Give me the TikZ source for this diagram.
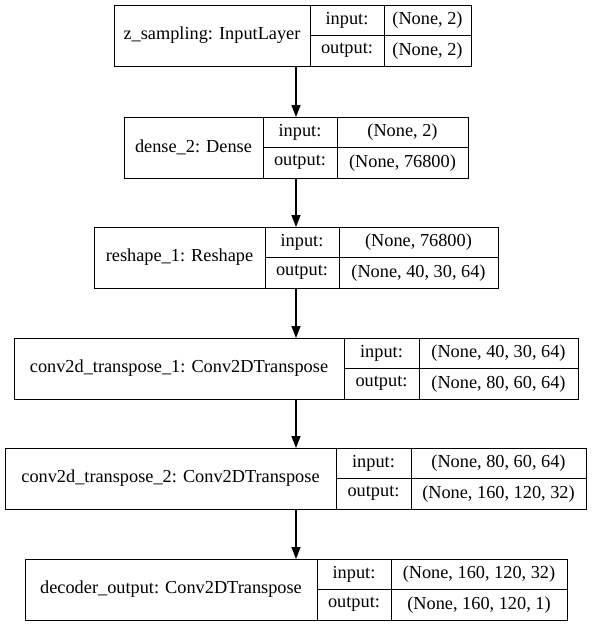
\documentclass[tikz,border=0pt]{standalone}
\usepackage{fontspec}
\setmainfont{Liberation Serif}
\usetikzlibrary{arrows.meta}

% one keras layer record: name, top, left, div1, div2, right, label, input, output
\newcommand{\keraslayer}[9]{%
  \node[cellbox, minimum height=61pt, minimum width={(#6-#3)*1pt}] (#1) at (#3,#2) {};
  \node[cellbox, minimum height=61pt, minimum width={(#4-#3)*1pt}] (#1name) at (#3,#2) {#7};
  \node[cellbox, minimum width={(#5-#4)*1pt}] (#1inl) at (#4,#2) {input:};
  \node[cellbox, minimum width={(#5-#4)*1pt}] (#1outl) at (#1inl.south west) {output:};
  \node[cellbox, minimum width={(#6-#5)*1pt}] (#1inv) at (#5,#2) {#8};
  \node[cellbox, minimum width={(#6-#5)*1pt}] (#1outv) at (#1inv.south west) {#9};
}

\begin{document}
\begin{tikzpicture}[x=1pt,y=-1pt,
    cellbox/.style={draw,line width=1pt,inner sep=0pt,outer sep=0pt,anchor=north west,
      minimum height=30.5pt,font=\rmfamily\fontsize{18.3}{21}\selectfont},
    flow/.style={line width=1.4pt,-{Triangle[length=12pt,width=9pt]}}]
    \useasboundingbox (0,0) rectangle (592,627);

    \keraslayer{zsampling}{5}{114}{310}{384}{471}{z\_sampling: InputLayer}{(None, 2)}{(None, 2)}
    \keraslayer{dense}{117}{124}{263}{337}{468}{dense\_2: Dense}{(None, 2)}{(None, 76800)}
    \keraslayer{reshape}{227}{94}{265}{339}{498}{reshape\_1: Reshape}{(None, 76800)}{(None, 40, 30, 64)}
    \keraslayer{convA}{338}{14}{344}{419}{578}{conv2d\_transpose\_1: Conv2DTranspose}{(None, 40, 30, 64)}{(None, 80, 60, 64)}
    \keraslayer{convB}{448}{5}{336}{411}{586}{conv2d\_transpose\_2: Conv2DTranspose}{(None, 80, 60, 64)}{(None, 160, 120, 32)}
    \keraslayer{decoder}{559}{25}{317}{391}{567}{decoder\_output: Conv2DTranspose}{(None, 160, 120, 32)}{(None, 160, 120, 1)}

    \draw[flow] (zsampling.south -| dense.north) -- (dense.north);
    \draw[flow] (dense.south) -- (reshape.north);
    \draw[flow] (reshape.south) -- (convA.north);
    \draw[flow] (convA.south) -- (convB.north -| convA.south);
    \draw[flow] (convB.south -| convA.south) -- (decoder.north -| convA.south);
\end{tikzpicture}
\end{document}
